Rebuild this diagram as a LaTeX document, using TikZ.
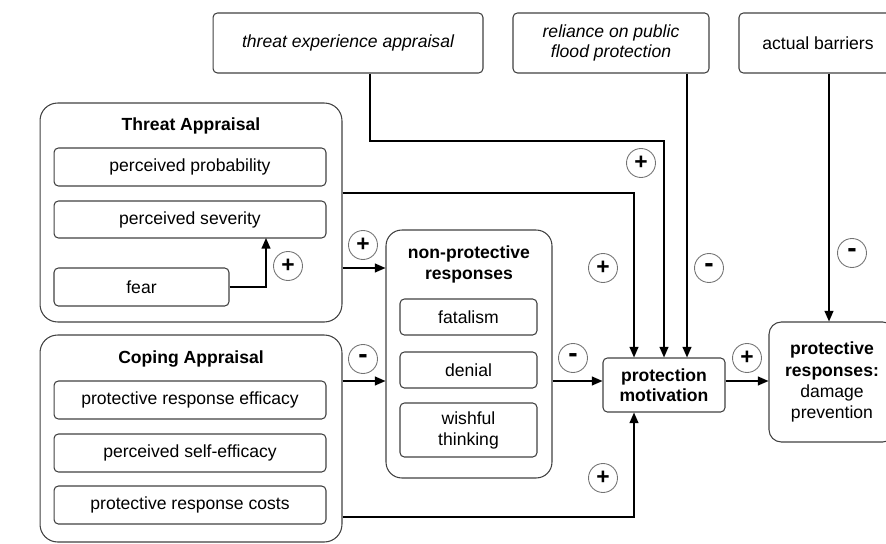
\documentclass[tikz,border=0pt]{standalone}
\usepackage{fontspec}
\setmainfont{Liberation Sans}
\usetikzlibrary{arrows.meta}

\begin{document}
\begin{tikzpicture}[
  x=0.02cm, y=-0.02cm,
  every node/.style={font=\fontsize{10}{12}\selectfont},
  item/.style={draw=black!75, line width=0.6pt, rounded corners=2.5pt,
               minimum height=0.76cm, inner sep=2pt, align=center},
  group/.style={draw=black!75, line width=0.6pt, rounded corners=10pt},
  grptitle/.style={font=\fontsize{10}{12}\selectfont\bfseries, align=center},
  topbox/.style={item, minimum height=1.2cm, font=\fontsize{10}{11.5}\selectfont\itshape},
  sign/.style={circle, draw=black!55, line width=0.5pt, minimum size=0.58cm,
               inner sep=0pt, font=\fontsize{13}{13}\selectfont\bfseries},
  arr/.style={-{Triangle[length=6pt, width=5pt]}, line width=0.9pt}
]
  \useasboundingbox (0,0) rectangle (886,544);
  \clip (0,0) rectangle (886,544);

  %% External factors (top row)
  \node[topbox, minimum width=5.4cm]  (tea) at (348,43) {threat experience appraisal};
  \node[topbox, minimum width=3.92cm] (rel) at (611,43) {reliance on public\\flood protection};
  \node[topbox, minimum width=3.16cm, font=\fontsize{10}{12}\selectfont] (bar) at (818,43) {actual barriers};

  %% Threat appraisal group
  \node[group, minimum width=6.04cm, minimum height=4.38cm] (threat) at (191,212.5) {};
  \node[grptitle] (threattl) at (191,126) {Threat Appraisal};
  \node[item, minimum width=5.44cm] (pp) at (190,167) {perceived probability};
  \node[item, minimum width=5.44cm, minimum height=0.74cm] (ps) at (190,219.5) {perceived severity};
  \node[item, minimum width=3.5cm] (fear) at (141.5,287) {fear};

  %% Coping appraisal group
  \node[group, minimum width=6.04cm, minimum height=4.14cm] (coping) at (191,438.5) {};
  \node[grptitle] (copingtl) at (191,359) {Coping Appraisal};
  \node[item, minimum width=5.44cm] (pre) at (190,400) {protective response efficacy};
  \node[item, minimum width=5.44cm] (pse) at (190,453) {perceived self-efficacy};
  \node[item, minimum width=5.44cm] (prc) at (190,505) {protective response costs};

  %% Non-protective responses
  \node[group, rounded corners=9pt, minimum width=3.32cm, minimum height=4.96cm] (npr) at (469,354) {};
  \node[grptitle] (nprtl) at (469,264) {non-protective\\responses};
  \node[item, minimum width=2.74cm, minimum height=0.72cm] (fat) at (468.5,317) {fatalism};
  \node[item, minimum width=2.74cm, minimum height=0.72cm] (den) at (468.5,370) {denial};
  \node[item, minimum width=2.74cm, minimum height=1.08cm] (wish) at (468.5,430) {wishful\\thinking};

  %% Motivation and responses
  \node[item, minimum width=2.44cm, minimum height=1.08cm, font=\fontsize{10}{11.5}\selectfont\bfseries] (pm) at (664,385) {protection\\motivation};
  \node[item, rounded corners=7pt, minimum width=2.52cm, minimum height=2.4cm] (presp) at (832,382)
    {\textbf{protective}\\\textbf{responses:}\\damage\\prevention};

  %% Bend and junction points
  \coordinate (fearup) at (266,238);
  \coordinate (tin) at (0,268);
  \coordinate (midy) at (0,381);
  \coordinate (tpm) at (634,193);
  \coordinate (tebend) at (370,141);
  \coordinate (rl) at (687,0);
  \coordinate (bl) at (829,0);
  \coordinate (cpm) at (634,517);

  %% Connectors
  \draw[arr] (fear.east) -| (fearup);
  \draw[arr] (threat.east |- tin) -- (npr.west |- tin);
  \draw[arr] (coping.east |- midy) -- (npr.west |- midy);
  \draw[arr] (threat.east |- tpm) -| (pm.north -| tpm);
  \draw[arr] (tea.south -| tebend) -- (tebend) -| (pm.north);
  \draw[arr] (rel.south -| rl) -- (pm.north -| rl);
  \draw[arr] (bar.south -| bl) -- (presp.north -| bl);
  \draw[arr] (npr.east |- midy) -- (pm.west |- midy);
  \draw[arr] (pm.east |- midy) -- (presp.west |- midy);
  \draw[arr] (coping.east |- cpm) -| (pm.south -| cpm);

  %% Signs
  \node[sign] (sfear) at (288,266) {+};
  \node[sign] (sthr)  at (363,245) {+};
  \node[sign] (scop)  at (363,359) {\fontsize{16}{16}\selectfont -};
  \node[sign] (stea)  at (641,163) {+};
  \node[sign] (stpm)  at (603,268) {+};
  \node[sign] (srel)  at (709,268) {\fontsize{16}{16}\selectfont -};
  \node[sign] (sbar)  at (852,253) {\fontsize{16}{16}\selectfont -};
  \node[sign] (snpr)  at (573,358) {\fontsize{16}{16}\selectfont -};
  \node[sign] (spm)   at (747,358) {+};
  \node[sign] (scpm)  at (603,478) {+};
\end{tikzpicture}
\end{document}
